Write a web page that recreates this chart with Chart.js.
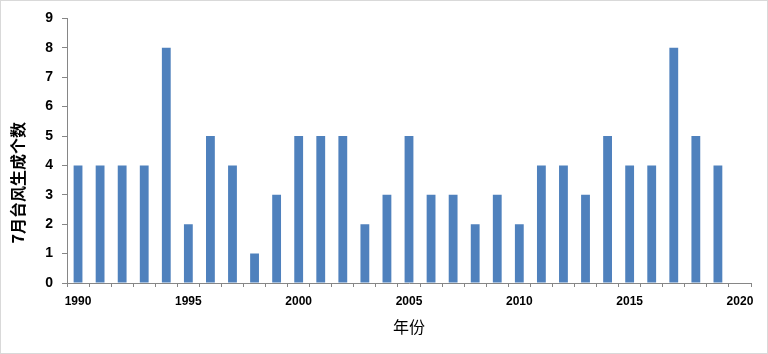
<!DOCTYPE html>
<html><head><meta charset="utf-8">
<script src="https://cdn.jsdelivr.net/npm/chart.js@4"></script>
<style>
html,body{margin:0;padding:0;background:#fff;}
#box{width:768px;height:354px;box-sizing:border-box;border:1px solid #d9d9d9;background:#fff;}
canvas{display:block;}
</style></head>
<body><div id="box"><canvas id="c" width="766" height="352"></canvas></div>
<script>
const years = [1990,1991,1992,1993,1994,1995,1996,1997,1998,1999,2000,2001,2002,2003,2004,2005,2006,2007,2008,2009,2010,2011,2012,2013,2014,2015,2016,2017,2018,2019,2020];
const counts = [4,4,4,4,8,2,5,4,1,3,5,5,5,2,3,5,3,3,2,3,2,4,4,3,5,4,4,8,5,4,null];
const yTicks = [0,1,2,3,4,5,6,7,8,9];
const xTitle = '年份';
const yTitle = '7月台风生成个数';

const axisColor = '#868686';
new Chart(document.getElementById('c'), {
  type: 'bar',
  data: {
    labels: years.map(String),
    datasets: [{ data: counts, backgroundColor: '#4f81bd', borderWidth: 0,
      categoryPercentage: 1.0, barPercentage: 0.4 }]
  },
  options: {
    responsive: false, animation: false,
    layout: { padding: { top: 15, right: 16, bottom: 0, left: 0 } },
    plugins: { legend: { display: false }, tooltip: { enabled: false } },
    scales: {
      x: {
        grid: { display: true, drawOnChartArea: false, drawTicks: true, tickLength: 4, offset: true, color: axisColor, lineWidth: 1 },
        border: { display: true, color: axisColor, width: 1 },
        ticks: { autoSkip: false, maxRotation: 0, minRotation: 0, padding: 7, color: '#000',
          font: { family: '"Liberation Sans", Arial, sans-serif', size: 12, weight: 'bold' },
          callback: function(v, i) { return years[i] % 5 === 0 ? String(years[i]) : ''; } },
        title: { display: true, text: xTitle, color: '#000', padding: { top: 0, bottom: 16 },
          font: { family: '"Noto Sans CJK SC", sans-serif', size: 16, weight: 'normal' } },
        afterFit: function(s) { s.height = 70; }
      },
      y: {
        min: 0, max: 9,
        afterBuildTicks: function(s) { s.ticks = yTicks.map(v => ({ value: v })); },
        grid: { display: true, drawOnChartArea: false, drawTicks: true, tickLength: 5, color: axisColor, lineWidth: 1 },
        border: { display: true, color: axisColor, width: 1 },
        ticks: { padding: 9, color: '#000',
          font: { family: '"Liberation Sans", Arial, sans-serif', size: 14, weight: 'bold' } },
        title: { display: true, text: yTitle + '\u3000\u3000\u3000\u3000', color: '#000', padding: { top: 7, bottom: 0 },
          font: { family: '"Noto Sans CJK SC", sans-serif', size: 16, weight: 'bold' } },
        afterFit: function(s) { s.width = 66; }
      }
    }
  }
});
</script></body></html>
